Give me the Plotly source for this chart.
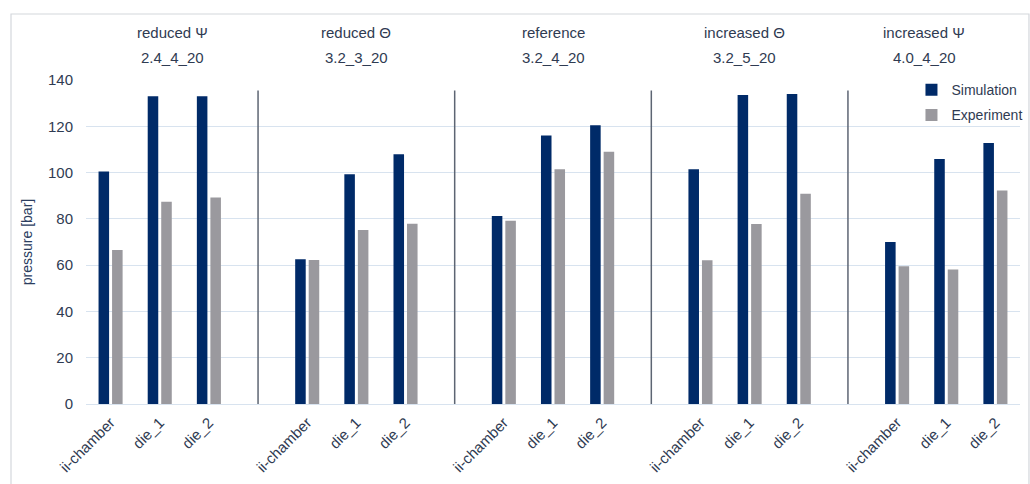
import plotly.graph_objects as go

groups_top = ["reduced Ψ", "reduced Θ", "reference", "increased Θ", "increased Ψ"]
groups_code = ["2.4_4_20", "3.2_3_20", "3.2_4_20", "3.2_5_20", "4.0_4_20"]
locations = ["ii-chamber", "die_1", "die_2"]

simulation = [100.5, 133.0, 133.0,
              62.5, 99.3, 107.9,
              81.2, 116.0, 120.4,
              101.4, 133.5, 134.0,
              70.0, 105.9, 112.8]
experiment = [66.5, 87.4, 89.2,
              62.2, 75.2, 77.9,
              79.2, 101.4, 109.0,
              62.1, 77.8, 90.9,
              59.5, 58.1, 92.2]

# x positions: 3 categories per group, one empty slot between groups
xpos = [4 * g + i for g in range(len(groups_top)) for i in range(len(locations))]
ticktext = [locations[i] for g in range(len(groups_top)) for i in range(len(locations))]

FONT = "Liberation Sans, Arial, sans-serif"
TXT = "#2f3b52"

fig = go.Figure()
fig.add_trace(go.Bar(x=xpos, y=simulation, name="Simulation", marker_color="#002a68",
                     marker_line_width=0, legendgroup="sim"))
fig.add_trace(go.Bar(x=xpos, y=experiment, name="Experiment", marker_color="#9a999e",
                     marker_line_width=0, legendgroup="exp"))

# separators between groups
for g in range(1, len(groups_top)):
    fig.add_shape(type="line", x0=4 * g - 1, x1=4 * g - 1, y0=0, y1=135.5,
                  xref="x", yref="y", line=dict(color="#5d6573", width=1.5))

# frame
fig.add_shape(type="rect", xref="paper", yref="paper", x0=-0.0803, x1=1.0096,
              y0=-0.27, y1=1.2037, line=dict(color="#d4d7dc", width=1.2), layer="below")

# group titles
offsets = [0.25, 0.0, 0.0, -0.1, -0.45]
for g in range(len(groups_top)):
    cx = 4 * g + 1 + offsets[g]
    fig.add_annotation(x=cx, y=1.148, xref="x", yref="paper", text=groups_top[g],
                       showarrow=False, yanchor="middle",
                       font=dict(family=FONT, size=15, color=TXT))
    fig.add_annotation(x=cx, y=1.068, xref="x", yref="paper", text=groups_code[g],
                       showarrow=False, yanchor="middle",
                       font=dict(family=FONT, size=15, color=TXT))

fig.update_layout(
    width=1030, height=484,
    margin=dict(l=86, r=10, t=80, b=80, autoexpand=False),
    paper_bgcolor="white", plot_bgcolor="white",
    barmode="group", bargap=0.45, bargroupgap=0.22,
    font=dict(family=FONT, color=TXT),
    legend=dict(x=1.008, xanchor="right", y=1.018, yanchor="top",
                bgcolor="rgba(0,0,0,0)", font=dict(size=14, color=TXT),
                itemwidth=30, tracegroupgap=4, traceorder="grouped"),
    showlegend=True,
)
fig.update_xaxes(range=[-0.5, 18.5], tickmode="array", tickvals=xpos, ticktext=ticktext,
                 tickangle=-45, showgrid=False, zeroline=False, showline=False,
                 tickfont=dict(size=15, color=TXT), ticks="", ticklabelstandoff=6,
                 automargin=False)
fig.update_yaxes(range=[0, 140], dtick=20, showgrid=True, gridcolor="#d8e3ef",
                 gridwidth=1, zeroline=True, zerolinecolor="#d8e3ef", zerolinewidth=1,
                 tickfont=dict(size=15, color=TXT), ticklabelstandoff=12, automargin=False,
                 title=dict(text="pressure [bar]", font=dict(size=14, color="#2b3d60"),
                            standoff=12))

fig.write_html("out.html")
